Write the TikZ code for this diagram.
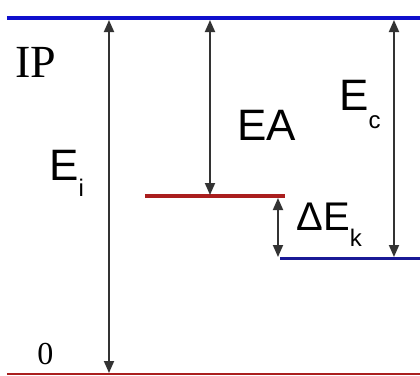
\documentclass[tikz,border=0pt]{standalone}
\usepackage{fontspec}
\setmainfont{Liberation Serif}
\setsansfont{Liberation Sans}
\usetikzlibrary{arrows.meta}
\definecolor{topblue}{RGB}{15,15,205}
\definecolor{lowblue}{RGB}{25,25,150}
\definecolor{levred}{RGB}{170,30,30}
\newcommand{\subsc}[2]{\raisebox{-#1}{\fontsize{12}{12}\selectfont #2}}

\begin{document}
\begin{tikzpicture}[x=0.5pt, y=-0.5pt,
  arr/.style={{Triangle[width=5pt,length=6pt]}-{Triangle[width=5pt,length=6pt]}, line width=0.9pt, black!80},
  sanslab/.style={font=\sffamily\fontsize{22}{22}\selectfont, inner sep=0pt, anchor=base west},
  seriflab/.style={inner sep=0pt, anchor=base west}
]
\useasboundingbox (0,0) rectangle (420,376);
% energy levels
\coordinate (ipL) at (7,18);    \coordinate (ipR) at (420,18);
\coordinate (eaL) at (145,196); \coordinate (eaR) at (285,196);
\coordinate (ecL) at (280,258); \coordinate (ecR) at (420,258);
\coordinate (zL) at (7,374);    \coordinate (zR) at (420,374);
\draw[topblue, line width=2pt] (ipL) -- (ipR);
\draw[levred, line width=1.8pt] (eaL) -- (eaR);
\draw[lowblue, line width=1.5pt] (ecL) -- (ecR);
\draw[levred, line width=1pt] (zL) -- (zR);
% arrow ends
\coordinate (eiT) at (109,20);  \coordinate (eiB) at (109,373);
\coordinate (eaT) at (210,20);  \coordinate (eaB) at (210,195);
\coordinate (ecT) at (394,20);  \coordinate (ecB) at (394,257);
\coordinate (ekT) at (278,198); \coordinate (ekB) at (278,257);
\draw[arr] (eiT) -- (eiB);
\draw[arr] (eaT) -- (eaB);
\draw[arr] (ecT) -- (ecB);
\draw[arr] (ekT) -- (ekB);
% labels
\node[seriflab, font=\fontsize{23}{23}\selectfont] (ip) at (15,77) {IP};
\node[seriflab, font=\fontsize{16}{16}\selectfont] (zero) at (37,364) {0};
\node[sanslab] (ei) at (49,180) {E\subsc{8pt}{i}};
\node[sanslab] (ea) at (237,140) {EA};
\node[sanslab] (ec) at (339,110) {E\subsc{9pt}{c}};
\node[sanslab, font=\sffamily\fontsize{20}{20}\selectfont] (ek) at (296,230) {ΔE\subsc{8pt}{k}};
\end{tikzpicture}
\end{document}
